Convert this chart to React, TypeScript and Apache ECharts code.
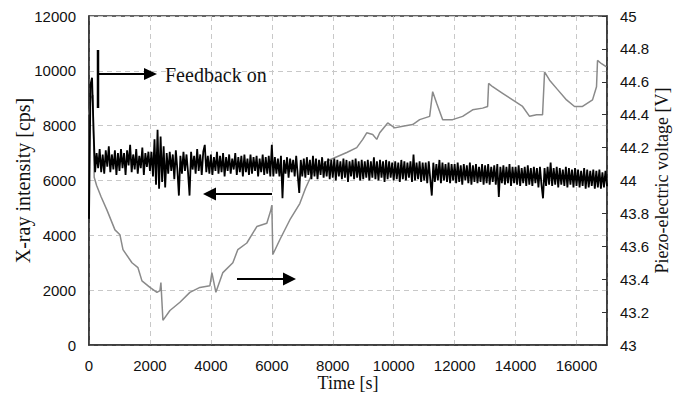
import React, { useEffect, useRef } from "react";
import * as echarts from "echarts";

// X-ray intensity [cps], sampled every 50 s from t = 0 s (one row = 1000 s)
const xrayStep = 50;
const xrayValues: number[] = [
  4600, 9500, 9750, 7800, 6300, 7000, 6450, 7150, 6300, 6950, 6250, 7100, 6500, 7250, 6300, 6950, 6400, 7100, 6200, 7000,
  6350, 7150, 6450, 7000, 6200, 7100, 6550, 7300, 6300, 6950, 6400, 7150, 6250, 6900, 6450, 7200, 6200, 7000, 6500, 7050,
  6350, 7050, 6150, 7500, 5850, 7850, 5700, 7600, 5950, 7250, 5750, 7000, 6250, 7050, 6350, 6950, 6050, 7100, 6400, 5450,
  6900, 6250, 7050, 6350, 6950, 6300, 5450, 7050, 6400, 6900, 6250, 7150, 6350, 6950, 6200, 7050, 7300, 6300, 6900, 6250,
  6950, 6200, 6850, 6350, 7050, 6250, 6900, 6300, 7000, 6150, 6850, 6350, 6950, 6250, 6800, 6400, 7000, 6200, 6850, 6300,
  6900, 6150, 6950, 6300, 6800, 6200, 6950, 6250, 6850, 6350, 6900, 6150, 6800, 6300, 6950, 6200, 6850, 6250, 6900, 6150,
  7300, 6150, 6850, 6250, 6800, 6150, 6900, 5350, 6750, 6250, 6850, 6100, 6800, 6300, 6750, 6150, 6900, 6200, 5550, 6750,
  6150, 6800, 6100, 6850, 6200, 6750, 6050, 6900, 6150, 6800, 6050, 6750, 6200, 6850, 6100, 6700, 6150, 6800, 6050, 6750,
  6100, 6800, 6000, 6750, 6150, 6700, 6050, 6800, 6100, 6750, 5950, 6700, 6150, 6750, 6050, 6800, 6100, 6700, 6000, 6750,
  6050, 6700, 6100, 6750, 6000, 6700, 6100, 6850, 6050, 6700, 6000, 6750, 6100, 6700, 5950, 6750, 6050, 6700, 6100, 6650,
  6000, 6700, 6050, 6650, 5950, 6750, 6050, 6700, 6000, 6650, 6100, 6700, 5950, 6950, 6000, 6650, 6050, 6700, 5950, 6650,
  6000, 6650, 5900, 6700, 6050, 5450, 6650, 5950, 6600, 6000, 6750, 5900, 6650, 6000, 6600, 5950, 6650, 5900, 6600, 6000,
  6600, 5900, 6650, 5950, 6550, 5850, 6600, 6000, 6550, 5900, 6650, 5850, 6550, 5950, 6600, 5900, 6500, 5950, 6600, 5850,
  6550, 5900, 6600, 5850, 6500, 5950, 6550, 5850, 6600, 5400, 6500, 5900, 6550, 5850, 6500, 5900, 6600, 5800, 6500, 5900,
  6500, 5850, 6550, 5800, 6450, 5900, 6500, 5800, 6550, 5850, 6450, 5800, 6500, 5900, 6450, 5750, 6500, 5850, 5350, 6450,
  5800, 6500, 5850, 6650, 5800, 6450, 5850, 6500, 5750, 6450, 5850, 6400, 5800, 6500, 5750, 6450, 5850, 6400, 5750, 6450,
  5800, 6400, 5750, 6350, 5800, 6450, 5700, 6400, 5750, 6350, 5800, 6400, 5700, 6350, 5750, 6400, 5700, 6300, 5750, 6350,
  5800,
];

// Piezo-electric voltage [V]
const piezoTimes: number[] = [
  0, 60, 130, 170, 250, 400, 590, 852, 1016, 1115, 1410, 1607, 1738, 2000, 2230, 2328, 2360, 2426,
  2656, 2984, 3311, 3639, 3967, 4033, 4164, 4393, 4721, 4885, 5180, 5508, 5836, 5967, 6000, 6033,
  6262, 6590, 6918, 7100, 7344, 7836, 8459, 8787, 8984, 9115, 9311, 9443, 9541, 9803, 10033, 10295,
  10623, 10852, 11180, 11279, 11410, 11607, 11934, 12262, 12590, 12918, 13082, 13115, 13246, 13574,
  13902, 14230, 14459, 14689, 14885, 14951, 15115, 15344, 15672, 15934, 16197, 16525, 16656, 16689,
  16820, 16984,
];
const piezoVolts: number[] = [
  44.4, 44.5, 44.52, 44.02, 43.97, 43.9, 43.82, 43.7, 43.67, 43.58, 43.5, 43.47, 43.39, 43.35, 43.32, 43.33, 43.38, 43.15,
  43.21, 43.26, 43.32, 43.35, 43.36, 43.44, 43.32, 43.44, 43.5, 43.58, 43.62, 43.72, 43.74, 43.82, 43.85, 43.55,
  43.64, 43.76, 43.86, 43.95, 44.05, 44.12, 44.17, 44.2, 44.25, 44.29, 44.28, 44.25, 44.29, 44.35, 44.32, 44.33,
  44.34, 44.37, 44.39, 44.54, 44.47, 44.37, 44.37, 44.39, 44.43, 44.44, 44.45, 44.59, 44.57, 44.53,
  44.49, 44.45, 44.39, 44.4, 44.4, 44.66, 44.61, 44.56, 44.49, 44.45, 44.45, 44.49, 44.57, 44.73,
  44.71, 44.69,
];

const xTicks = { min: 0, max: 17000, interval: 2000 };
const leftTicks = { min: 0, max: 12000, interval: 2000 };
const rightTicks = { min: 43, max: 45, interval: 0.2 };

const serif = "Liberation Serif";
const sans = "Liberation Sans";

const plain = (v: number) => String(Math.round(v * 10) / 10);

export default function App() {
  const ref = useRef<HTMLDivElement>(null);
  useEffect(() => {
    document.body.style.margin = "0";
    if (!ref.current) return;
    const chart = echarts.init(ref.current, undefined, { renderer: "svg" });
    const xray = xrayValues.map((v, i) => [i * xrayStep, v]);
    const piezo = piezoTimes.map((t, i) => [t, piezoVolts[i]]);
    const axisLineStyle = { color: "#333", width: 1.5 };
    chart.setOption({
      animation: false,
      backgroundColor: "#fff",
      grid: {
        left: 89,
        right: 67,
        top: 16,
        bottom: 54,
        show: true,
        borderColor: "#333",
        borderWidth: 1.5,
        containLabel: false,
        outerBoundsMode: "none",
      },
      xAxis: {
        type: "value",
        min: xTicks.min,
        max: xTicks.max,
        interval: xTicks.interval,
        name: "Time [s]",
        nameLocation: "middle",
        nameGap: 29,
        nameMoveOverlap: false,
        nameTextStyle: { fontFamily: serif, fontSize: 18, color: "#111" },
        axisLine: { lineStyle: axisLineStyle },
        axisTick: { show: false },
        axisLabel: {
          fontFamily: sans,
          fontSize: 15,
          color: "#111",
          margin: 13,
          showMaxLabel: false,
          formatter: plain,
        },
        splitLine: { show: true, lineStyle: { color: "#c8c8c8", type: [5, 4], width: 1 } },
      },
      yAxis: [
        {
          type: "value",
          min: leftTicks.min,
          max: leftTicks.max,
          interval: leftTicks.interval,
          name: "X-ray intensity [cps]",
          nameLocation: "middle",
          nameGap: 56,
          nameMoveOverlap: false,
          nameRotate: 90,
          nameTextStyle: { fontFamily: serif, fontSize: 20, color: "#111" },
          axisLine: { show: true, lineStyle: axisLineStyle },
          axisTick: { show: false },
          axisLabel: { fontFamily: sans, fontSize: 15, color: "#111", margin: 13, formatter: plain },
          splitLine: { show: true, lineStyle: { color: "#c8c8c8", type: [5, 4], width: 1 } },
        },
        {
          type: "value",
          position: "right",
          min: rightTicks.min,
          max: rightTicks.max,
          interval: rightTicks.interval,
          name: "Piezo-electric voltage [V]",
          nameLocation: "middle",
          nameGap: 46,
          nameMoveOverlap: false,
          nameRotate: 90,
          nameTextStyle: { fontFamily: serif, fontSize: 18, color: "#111" },
          axisLine: { show: true, lineStyle: axisLineStyle },
          axisTick: { show: true, inside: true, length: 5, lineStyle: { color: "#333" } },
          axisLabel: { fontFamily: sans, fontSize: 15, color: "#111", margin: 13, formatter: plain },
          splitLine: { show: false },
        },
      ],
      series: [
        {
          type: "line",
          name: "X-ray intensity",
          yAxisIndex: 0,
          data: xray,
          showSymbol: false,
          symbol: "none",
          lineStyle: { color: "#000", width: 1.8 },
          z: 3,
        },
        {
          type: "line",
          name: "Piezo voltage",
          yAxisIndex: 1,
          data: piezo,
          showSymbol: false,
          symbol: "none",
          lineStyle: { color: "#8a8a8a", width: 1.5 },
          z: 2,
        },
      ],
      graphic: [
        { type: "line", shape: { x1: 98, y1: 50, x2: 98, y2: 108 }, style: { stroke: "#000", lineWidth: 2.5 }, z: 10 },
        { type: "line", shape: { x1: 98, y1: 74, x2: 148, y2: 74 }, style: { stroke: "#000", lineWidth: 2 }, z: 10 },
        { type: "polygon", shape: { points: [[144, 68], [157, 74], [144, 80]] }, style: { fill: "#000" }, z: 10 },
        {
          type: "text",
          x: 165,
          y: 75,
          style: { text: "Feedback on", font: `20px "${serif}"`, fill: "#111", verticalAlign: "middle" },
          z: 10,
        },
        { type: "line", shape: { x1: 272, y1: 194, x2: 212, y2: 194 }, style: { stroke: "#000", lineWidth: 2 }, z: 10 },
        { type: "polygon", shape: { points: [[216, 187.5], [203, 194], [216, 200.5]] }, style: { fill: "#000" }, z: 10 },
        { type: "line", shape: { x1: 237, y1: 279, x2: 287, y2: 279 }, style: { stroke: "#000", lineWidth: 2 }, z: 10 },
        { type: "polygon", shape: { points: [[283, 272.5], [296, 279], [283, 285.5]] }, style: { fill: "#000" }, z: 10 },
      ],
    });
    return () => chart.dispose();
  }, []);
  return <div ref={ref} style={{ width: 674, height: 399 }} />;
}
